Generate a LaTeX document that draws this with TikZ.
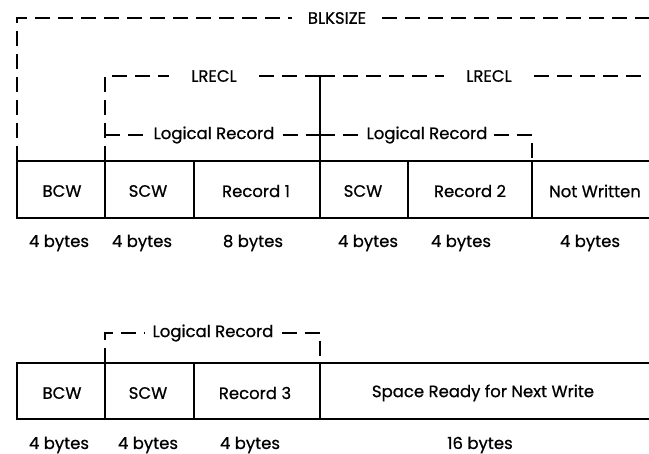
\documentclass[tikz,border=0pt]{standalone}
\usepackage{fontspec}
\setmainfont{Poppins}[FakeBold=0.7]

\begin{document}
\begin{tikzpicture}[x=1pt,y=-1pt,
	txt/.style={font=\fontsize{16.5}{18}\selectfont, inner sep=0pt},
	box/.style={line width=1.5pt},
	brk/.style={line width=1.4pt, dash pattern=on 15pt off 8pt},
	tick/.style={line width=1.4pt}]
				%%%%% START %%%%%
				\useasboundingbox (0,0) rectangle (649,454);
				\def\xa{17}
				\def\xb{105}
				\def\xc{194}
				\def\xd{320}
				\def\xe{408}
				\def\xf{532}
				\def\xr{649}
				\def\ytop{161}
				\def\ybot{218}
				\def\ytopb{363}
				\def\ybotb{419}
				\def\yblk{18}
				\def\ylr{76}
				\def\ylog{135}
				\def\ylogb{333}
				
				% first block
				\draw[box] (\xr,\ytop) -- (\xa,\ytop) -- (\xa,\ybot) -- (\xr,\ybot);
				\foreach \x in {\xb,\xc,\xd,\xe,\xf}
					\draw[box] (\x,\ytop) -- (\x,\ybot);
				
				\node[txt] (bcw) at (62,191) {BCW};
				\node[txt] (scwa) at (148,191) {SCW};
				\node[txt] (reca) at (256,191) {Record 1};
				\node[txt] (scwb) at (363,191) {SCW};
				\node[txt] (recb) at (470,191) {Record 2};
				\node[txt] (notw) at (595,191) {Not Written};
				
				\node[txt] (bbcw) at (59,243) {4 bytes};
				\node[txt] (bscwa) at (142,243) {4 bytes};
				\node[txt] (breca) at (253,243) {8 bytes};
				\node[txt] (bscwb) at (368,243) {4 bytes};
				\node[txt] (brecb) at (461,243) {4 bytes};
				\node[txt] (bnotw) at (590,243) {4 bytes};
				
				% brackets over the first block
				\coordinate (blkl) at (\xa,\ytop);
				\coordinate (blkc) at (\xa,\yblk);
				\coordinate (blkr) at (\xr,\yblk);
				\node[txt, inner xsep=16pt] (blk) at (337,\yblk) {BLKSIZE};
				\draw[brk] (blkl) -- (blkc) -- (blk.west);
				\draw[brk] (blk.east) -- (blkr);
				
				\coordinate (lra) at (\xb,\ytop);
				\coordinate (lrac) at (\xb,\ylr);
				\coordinate (lrmid) at (\xd,\ylr);
				\coordinate (lrmidb) at (\xd,\ytop);
				\coordinate (lrr) at (\xr,\ylr);
				\node[txt, inner xsep=22pt] (lrecla) at (214,\ylr) {LRECL};
				\node[txt, inner xsep=22pt] (lreclb) at (489,\ylr) {LRECL};
				\draw[brk] (lra) -- (lrac) -- (lrecla.west);
				\draw[brk] (lrecla.east) -- (lrmid);
				\draw[tick] (lrmid) -- (lrmidb);
				\draw[brk] (lrmid) -- (lreclb.west);
				\draw[brk] (lreclb.east) -- (lrr);
				
				\coordinate (lga) at (\xb,\ylog);
				\coordinate (lgmid) at (\xd,\ylog);
				\coordinate (lgc) at (\xf,\ylog);
				\coordinate (lgcb) at (\xf,\ytop);
				\node[txt, inner xsep=8pt] (loga) at (214,\ylog) {Logical Record};
				\node[txt, inner xsep=6pt] (logb) at (427,\ylog) {Logical Record};
				\draw[brk] (lga) -- (loga.west);
				\draw[brk] (loga.east) -- (lgmid);
				\draw[brk] (lgmid) -- (logb.west);
				\draw[brk] (logb.east) -- (lgc) -- (lgcb);
				
				% second block
				\draw[box] (\xr,\ytopb) -- (\xa,\ytopb) -- (\xa,\ybotb) -- (\xr,\ybotb);
				\foreach \x in {\xb,\xc,\xd}
					\draw[box] (\x,\ytopb) -- (\x,\ybotb);
				
				\node[txt] (bcwc) at (62,393) {BCW};
				\node[txt] (scwc) at (148,393) {SCW};
				\node[txt] (recc) at (255,393) {Record 3};
				\node[txt] (space) at (483,393) {Space Ready for Next Write};
				
				\node[txt] (bbcwc) at (59,445) {4 bytes};
				\node[txt] (bscwc) at (148,445) {4 bytes};
				\node[txt] (brecc) at (250,445) {4 bytes};
				\node[txt] (bspace) at (480,445) {16 bytes};
				
				\coordinate (lgd) at (\xb,\ytopb);
				\coordinate (lgdc) at (\xb,\ylogb);
				\coordinate (lge) at (\xd,\ylogb);
				\coordinate (lgeb) at (\xd,\ytopb);
				\node[txt, inner xsep=8pt] (logc) at (213,\ylogb) {Logical Record};
				\draw[brk] (lgd) -- (lgdc) -- (logc.west);
				\draw[brk] (logc.east) -- (lge) -- (lgeb);
				%%%%% END %%%%%
\end{tikzpicture}
\end{document}
